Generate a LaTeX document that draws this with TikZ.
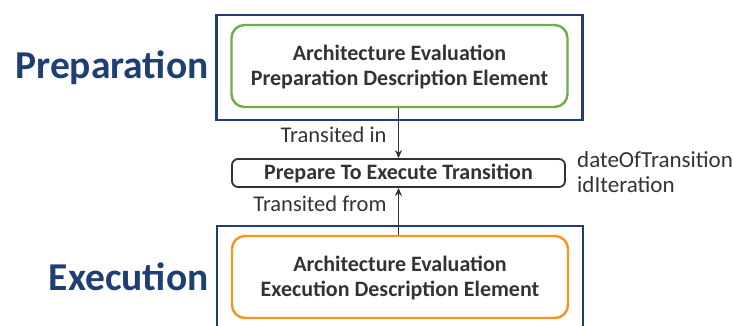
\documentclass[tikz,border=0pt]{standalone}
\usepackage{fontspec}
\setmainfont{Carlito}
\usetikzlibrary{positioning, arrows.meta}

\definecolor{navy}{HTML}{1F3F74}
\definecolor{leaf}{HTML}{70AD47}
\definecolor{amber}{HTML}{F7941D}
\definecolor{ink}{HTML}{333333}

\begin{document}
\begin{tikzpicture}[x=1pt, y=-1pt, >={Stealth[length=8pt, width=7pt]},
  phase/.style={draw=navy, line width=2.6pt, minimum width=366pt, inner sep=0pt},
  element/.style={rounded corners=13pt, line width=2.4pt, minimum width=336pt,
    minimum height=82pt, align=center, font=\fontsize{22}{24.5}\selectfont\bfseries, text=ink},
  transition/.style={draw=ink, rounded corners=6pt, line width=1.8pt, minimum width=333pt,
    minimum height=28pt, inner sep=0pt, font=\fontsize{22}{24}\selectfont\bfseries, text=ink},
  phasename/.style={font=\fontsize{39.5}{42}\selectfont\bfseries, text=navy, anchor=base east},
  note/.style={font=\fontsize{22.5}{24}\selectfont, text=ink, anchor=base east, inner sep=0pt},
  attr/.style={font=\fontsize{23}{25}\selectfont, text=ink, anchor=base west, inner sep=0pt}]

\useasboundingbox (0, 0) rectangle (733, 325);

% --- Phase frames ---
\node[phase, minimum height=105pt] (prepframe) at (399.5, 67.5) {};
\node[phase, minimum height=110pt] (execframe) at (400, 281) {};

% --- Phase names ---
\node[phasename] (prepname) at (212, 78) {Preparation};
\node[phasename] (execname) at (212, 290) {Execution};

% --- Description elements ---
\node[element, draw=leaf] (prepelem) at (399.5, 66)
  {\rule{0pt}{17pt}Architecture Evaluation\\Preparation Description Element};
\node[element, draw=amber] (execelem) at (400, 277)
  {\rule{0pt}{17pt}Architecture Evaluation\\Execution Description Element};

% --- Transition ---
\node[transition] (trans) at (398.5, 173) {Prepare To Execute Transition};
\node[attr] (dateattr) at (577, 167) {dateOfTransition};
\node[attr] (idattr) at (577, 192) {idIteration};

% --- Connectors ---
\draw[->, line width=1.9pt, ink] (prepelem.south -| trans.north) -- (trans.north)
  node[note, pos=0.69, xshift=-11pt] (inlab) {Transited in};
\draw[->, line width=1.9pt, ink] (execelem.north -| trans.south) -- (trans.south)
  node[note, pos=0.49, xshift=-11pt] (fromlab) {Transited from};

\end{tikzpicture}
\end{document}
